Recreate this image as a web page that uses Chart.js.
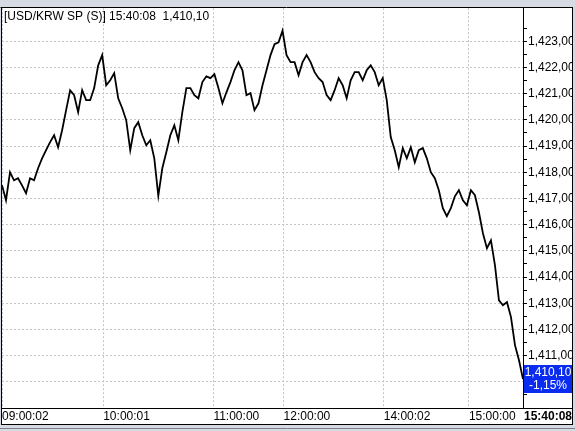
<!DOCTYPE html>
<html><head><meta charset="utf-8">
<script src="https://cdn.jsdelivr.net/npm/chart.js@4"></script>
<style>html,body{margin:0;padding:0;background:#d6dbe3;overflow:hidden}#wrap{width:575px;height:431px;position:relative}</style>
</head><body><div id="wrap"><canvas id="c" width="575" height="431"></canvas></div>
<script>
const instrument = '[USD/KRW SP (S)]';
const lastTime = '15:40:08';
const changeLabel = '-1,15%';
const timeTickIndex = [0, 25.25, 52.75, 70.25, 95.25, 116.5];
const timeTickLabels = ['09:00:02', '10:00:01', '11:00:00', '12:00:00', '14:00:02', '15:00:00'];
const priceTicks = [1409.5, 1410, 1410.5, 1411, 1411.5, 1412, 1412.5, 1413, 1413.5, 1414, 1414.5,
  1415, 1415.5, 1416, 1416.5, 1417, 1417.5, 1418, 1418.5, 1419, 1419.5, 1420, 1420.5,
  1421, 1421.5, 1422, 1422.5, 1423, 1423.5];
const prices = [
  1417.50, 1416.93, 1418.00, 1417.69, 1417.77, 1417.50, 1417.20, 1417.77, 1417.69, 1418.15,
  1418.53, 1418.84, 1419.15, 1419.41, 1418.95, 1419.60, 1420.37, 1421.13, 1420.94, 1420.29,
  1421.13, 1420.75, 1420.75, 1421.21, 1422.08, 1422.47, 1421.32, 1421.51, 1421.78, 1420.82,
  1420.44, 1419.98, 1418.84, 1419.68, 1419.91, 1419.41, 1419.03, 1419.22, 1418.53, 1417.10,
  1418.15, 1418.76, 1419.41, 1419.79, 1419.22, 1420.29, 1421.21, 1421.21, 1420.94, 1420.82,
  1421.44, 1421.66, 1421.59, 1421.74, 1421.21, 1420.63, 1421.05, 1421.44, 1421.89, 1422.20,
  1421.89, 1420.94, 1421.02, 1420.37, 1420.63, 1421.32, 1421.89, 1422.47, 1422.89, 1422.96,
  1423.40, 1422.47, 1422.20, 1422.20, 1421.70, 1422.20, 1422.47, 1422.20, 1421.82, 1421.59,
  1421.44, 1420.94, 1420.75, 1421.13, 1421.59, 1421.32, 1420.82, 1421.51, 1421.82, 1421.82,
  1421.51, 1421.89, 1422.08, 1421.82, 1421.32, 1421.59, 1420.75, 1419.34, 1418.84, 1418.19,
  1418.92, 1418.53, 1418.95, 1418.38, 1418.84, 1418.92, 1418.53, 1418.00, 1417.77, 1417.31,
  1416.63, 1416.32, 1416.63, 1417.08, 1417.31, 1416.93, 1416.74, 1417.31, 1417.12, 1416.47,
  1415.67, 1415.10, 1415.40, 1414.45, 1413.11, 1412.92, 1413.04, 1412.47, 1411.40, 1410.82,
  1410.10
];

function fmt(v) {
  const s = v.toFixed(2).split('.');
  return s[0].replace(/\B(?=(\d{3})+(?!\d))/g, ',') + ',' + s[1];
}
const FONT = '"Liberation Sans", Arial, sans-serif';
const GRID = '#c4c4c4';

const framePlugin = {
  id: 'frame',
  beforeDraw(chart) {
    const ctx = chart.ctx;
    ctx.save();
    ctx.fillStyle = '#d6dbe3';
    ctx.fillRect(0, 0, 575, 431);
    ctx.fillStyle = '#ffffff';
    ctx.fillRect(1, 7, 572, 418);
    ctx.restore();
  },
  afterDraw(chart) {
    const ctx = chart.ctx;
    const ys = chart.scales.y;
    const last = prices[prices.length - 1];
    ctx.save();
    // window bands
    ctx.fillStyle = '#d6dbe3';
    ctx.fillRect(0, 0, 575, 7);
    ctx.fillRect(573, 0, 2, 431);
    ctx.fillRect(0, 425, 575, 6);
    ctx.fillRect(0, 0, 1, 431);
    // borders
    ctx.strokeStyle = '#000';
    ctx.lineWidth = 1;
    ctx.beginPath();
    ctx.moveTo(0.5, 7.5); ctx.lineTo(572.5, 7.5);
    ctx.moveTo(1.5, 7); ctx.lineTo(1.5, 425);
    ctx.moveTo(572.5, 7); ctx.lineTo(572.5, 425);
    ctx.moveTo(1, 424.5); ctx.lineTo(573, 424.5);
    ctx.moveTo(1, 408.5); ctx.lineTo(573, 408.5);
    ctx.stroke();
    ctx.strokeStyle = '#7a7f88';
    ctx.beginPath();
    ctx.moveTo(0, 428.5); ctx.lineTo(575, 428.5);
    ctx.stroke();
    // last price box
    const py = Math.round(ys.getPixelForValue(last));
    ctx.fillStyle = '#0a2cf0';
    ctx.fillRect(524, py - 14, 48, 28);
    ctx.fillStyle = '#fff';
    ctx.font = '12px ' + FONT;
    ctx.textAlign = 'center';
    ctx.textBaseline = 'middle';
    ctx.fillText(fmt(last), 548, py - 6);
    ctx.fillText(changeLabel, 548, py + 7);
    // header
    ctx.fillStyle = '#000';
    ctx.textAlign = 'left';
    ctx.textBaseline = 'alphabetic';
    ctx.fillText(instrument + ' ' + lastTime + '  ' + fmt(last), 4, 20);
    // last time
    ctx.font = 'bold 12px ' + FONT;
    ctx.textBaseline = 'middle';
    ctx.fillText(lastTime, 524, 417);
    ctx.restore();
  }
};

new Chart(document.getElementById('c'), {
  type: 'line',
  data: {
    datasets: [{
      data: prices.map((p, i) => ({ x: i, y: p })),
      borderColor: '#000',
      borderWidth: 1.8,
      pointRadius: 0,
      tension: 0,
      fill: false
    }]
  },
  options: {
    responsive: false,
    animation: false,
    devicePixelRatio: 1,
    layout: { padding: { top: 8, left: 2, right: 3, bottom: 7 } },
    plugins: { legend: { display: false }, tooltip: { enabled: false }, title: { display: false } },
    scales: {
      x: {
        type: 'linear',
        min: 0,
        max: prices.length - 1,
        afterBuildTicks: s => { s.ticks = timeTickIndex.map(v => ({ value: v })); },
        afterFit: s => { s.height = 16; },
        ticks: {
          callback: (v, i) => timeTickLabels[i],
          align: 'start',
          maxRotation: 0,
          autoSkip: false,
          padding: 1,
          color: '#000',
          font: { family: FONT, size: 12, lineHeight: 1.2 }
        },
        grid: { color: GRID, drawTicks: false, lineWidth: 1 },
        border: { display: true, color: '#000', width: 1, dash: [2, 2] }
      },
      y: {
        position: 'right',
        min: 1409.0,
        max: 1424.26,
        afterBuildTicks: s => { s.ticks = priceTicks.map(v => ({ value: v })); },
        afterFit: s => { s.width = 49; },
        ticks: {
          callback: v => Number.isInteger(v) ? fmt(v) : '',
          padding: 1,
          color: '#000',
          autoSkip: false,
          font: { family: FONT, size: 12 }
        },
        grid: {
          color: c => (c.tick && Number.isInteger(c.tick.value)) ? GRID : 'rgba(0,0,0,0)',
          tickColor: '#000',
          tickLength: 4,
          lineWidth: 1
        },
        border: { display: true, color: '#000', width: 1, dash: [2, 2] }
      }
    }
  },
  plugins: [framePlugin]
});
</script></body></html>
